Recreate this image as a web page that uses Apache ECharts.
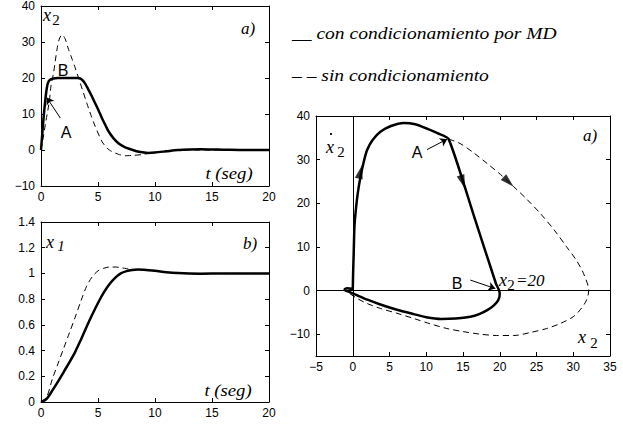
<!DOCTYPE html>
<html>
<head>
<meta charset="utf-8">
<script src="https://cdn.jsdelivr.net/npm/echarts@6/dist/echarts.min.js"></script>
<style>
  html, body { margin: 0; padding: 0; background: #fff; }
  #chart { width: 623px; height: 425px; }
</style>
</head>
<body>
<div id="chart"></div>
<script>
// a) x2(t), con condicionamiento (solid) / sin condicionamiento (dashed)
const tX2Con = [0, 0.1, 0.2, 0.3, 0.4, 0.5, 0.6, 0.75, 1.0, 1.5, 2.0, 2.5, 3.0, 3.29, 3.6, 3.9, 4.17, 4.45, 4.75, 5.05, 5.34, 5.63, 5.92, 6.35, 6.79, 7.35, 7.96, 8.6, 9.4, 10, 11, 12, 13, 14, 15, 16, 18, 20];
const x2Con  = [0, 4, 8, 11.5, 14.5, 17, 18.5, 19.4, 19.8, 20, 20, 20, 20, 20, 19.5, 18.3, 16.7, 15, 13, 11, 8.9, 7, 5.2, 3.3, 1.9, 0.8, 0.1, -0.5, -0.8, -0.7, -0.35, 0, 0.15, 0.2, 0.15, 0.1, 0, 0];
const tX2Sin = [0, 0.2, 0.4, 0.6, 0.75, 0.87, 1.1, 1.4, 1.6, 1.84, 2.1, 2.42, 2.7, 3.0, 3.44, 4.02, 4.4, 4.75, 5.34, 5.8, 6.2, 6.8, 7.37, 8.0, 8.8, 9.5, 10, 11, 12, 20];
const x2Sin  = [0, 3.5, 7.5, 11, 14, 17.7, 21.4, 27.9, 30.8, 32, 31, 27.9, 25.5, 22.8, 18.6, 13, 9.5, 6.6, 2.4, 0.5, -0.4, -1.2, -1.6, -1.5, -1.3, -0.9, -0.6, -0.2, 0, 0];

// b) x1(t)
const tX1Con = [0, 0.5, 1, 1.5, 2, 2.5, 3, 3.5, 4, 4.5, 5, 5.5, 6, 6.5, 7, 7.5, 8, 8.5, 9, 10, 11, 12, 13, 14, 16, 18, 20];
const x1Con  = [0, 0.025, 0.09, 0.16, 0.235, 0.31, 0.39, 0.485, 0.585, 0.68, 0.77, 0.85, 0.915, 0.965, 1.0, 1.018, 1.027, 1.03, 1.028, 1.02, 1.01, 1.003, 0.999, 0.998, 1.0, 1.0, 1.0];
const tX1Sin = [0, 0.5, 1, 1.5, 2, 2.5, 3, 3.5, 4, 4.5, 5, 5.5, 6, 6.5, 7, 7.5, 8, 8.5, 9, 10, 11, 12, 13, 14, 16, 18, 20];
const x1Sin  = [0, 0.04, 0.18, 0.30, 0.42, 0.54, 0.66, 0.785, 0.90, 0.975, 1.02, 1.04, 1.05, 1.05, 1.045, 1.037, 1.03, 1.03, 1.028, 1.02, 1.01, 1.003, 0.999, 0.998, 1.0, 1.0, 1.0];

// plano de fase (x2, dx2/dt)
const phX2Con  = [0, 0.05, 0.12, 0.23, 0.45, 0.7, 1.05, 1.5, 1.95, 2.7, 3.76, 5.2, 6.93, 8.5, 10.1, 11.6, 13.05, 16.3, 19.5, 19.85, 20.0, 19.8, 19.2, 18.3, 17.2, 16, 14, 12, 10, 8.3, 6, 3.76, 2, 0.6, -0.5, -1.0, -1.1, -0.8, 0, 0];
const phDx2Con = [0, 4, 8, 14.6, 19, 22.5, 26, 29.5, 32.2, 34.5, 36.4, 37.7, 38.4, 38.1, 37.1, 36, 34.7, 18.1, 1.5, 0.3, -0.8, -2.2, -3.4, -4.5, -5.4, -6, -6.4, -6.5, -6.1, -5.4, -4.4, -3.2, -2.1, -1.1, -0.3, 0, 0.3, 0.5, 0.3, 0];
const phX2Sin  = [13.05, 14.6, 16.5, 18.3, 20.1, 21.9, 23.7, 25.5, 27.4, 29.1, 30.4, 31.4, 32.1, 31.8, 31, 30, 28.3, 26.4, 24.2, 21.9, 19.6, 17.35, 15, 12.8, 10.5, 8.3, 6, 3.76, 2, 0.6, -0.76, -1];
const phDx2Sin = [34.7, 33.7, 31.5, 29.1, 26.6, 23.8, 20.9, 17.7, 13.9, 10, 7, 3.9, 0, -2.2, -4.3, -6, -7.5, -8.7, -9.6, -10.3, -10.3, -10, -9.4, -8.7, -7.6, -6.4, -5.2, -4.1, -3, -1.8, -0.3, 0];
// flechas de sentido sobre las trayectorias
const arrowX2  = [1.05, 14.97, 21.2];
const arrowDx2 = [27.2, 24.9, 24.9];
const arrowRot = [-14, 199, 227];

const zip = (a, b) => a.map((v, i) => [v, b[i]]);
const fmt = v => String(v).replace('-', '\u2212');

const SANS = "'Liberation Sans', Arial, sans-serif";
const SERIF = "'Liberation Serif', 'Times New Roman', serif";

function xAxes(g, min, max, interval) {
  const base = {
    gridIndex: g, type: 'value', min: min, max: max, interval: interval,
    axisLine: { onZero: false, lineStyle: { color: '#000', width: 1 } },
    axisTick: { inside: true, length: 4, lineStyle: { color: '#000' } },
    splitLine: { show: false }
  };
  return [
    Object.assign({}, base, { position: 'bottom',
      axisLabel: { color: '#000', fontFamily: SANS, fontSize: 12, margin: 5, formatter: fmt } }),
    Object.assign({}, base, { position: 'top', axisLabel: { show: false } })
  ];
}

function yAxes(g, min, max, interval, custom) {
  const base = {
    gridIndex: g, type: 'value', min: min, max: max, interval: interval,
    axisLine: { onZero: false, lineStyle: { color: '#000', width: 1 } },
    axisTick: { inside: true, length: 4, lineStyle: { color: '#000' } },
    splitLine: { show: false }
  };
  if (custom) base.axisTick.customValues = custom;
  const lab = { color: '#000', fontFamily: SANS, fontSize: 12, margin: 6, formatter: fmt };
  if (custom) lab.customValues = custom;
  return [
    Object.assign({}, base, { position: 'left', axisLabel: lab }),
    Object.assign({}, base, { position: 'right', axisLabel: { show: false } })
  ];
}

function txt(x, y, text, font, align, sx) {
  return {
    type: 'text', x: x, y: y, scaleX: sx || 1, silent: true,
    style: { text: text, font: font, fill: '#000', align: align || 'center', verticalAlign: 'middle' }
  };
}

const solid = { color: '#000', width: 2.5 };
const dashed = { color: '#000', width: 1, type: [6, 4] };
const arrowLine = (from, to) => [{ coord: from }, { coord: to }];

const chart = echarts.init(document.getElementById('chart'), null, { renderer: 'svg' });

chart.setOption({
  animation: false,
  backgroundColor: '#fff',
  grid: [
    { left: 41, top: 5, width: 228, height: 181 },
    { left: 41, top: 222, width: 228, height: 180 },
    { left: 316, top: 116, width: 294, height: 240 }
  ],
  xAxis: [].concat(xAxes(0, 0, 20, 5), xAxes(1, 0, 20, 5), xAxes(2, -5, 35, 5)),
  yAxis: [].concat(yAxes(0, -10, 40, 10), yAxes(1, 0, 1.4, 0.2), yAxes(2, -15, 40, 5, [-10, 0, 10, 20, 30, 40])),
  series: [
    { type: 'line', xAxisIndex: 0, yAxisIndex: 0, data: zip(tX2Sin, x2Sin), showSymbol: false, smooth: 0.25, lineStyle: dashed },
    { type: 'line', xAxisIndex: 0, yAxisIndex: 0, data: zip(tX2Con, x2Con), showSymbol: false, smooth: 0.25, lineStyle: solid,
      markLine: { silent: true, symbol: ['none', 'arrow'], symbolSize: 7, label: { show: false },
        lineStyle: { color: '#000', width: 1, type: 'solid' },
        data: [arrowLine([1.69, 8.9], [0.5, 14.6])] } },
    { type: 'line', xAxisIndex: 2, yAxisIndex: 2, data: zip(tX1Sin, x1Sin), showSymbol: false, smooth: 0.3, lineStyle: dashed },
    { type: 'line', xAxisIndex: 2, yAxisIndex: 2, data: zip(tX1Con, x1Con), showSymbol: false, smooth: 0.3, lineStyle: solid },
    { type: 'line', xAxisIndex: 4, yAxisIndex: 4, data: zip(phX2Sin, phDx2Sin), showSymbol: false, smooth: 0.3, lineStyle: dashed,
      markLine: { silent: true, symbol: 'none', label: { show: false },
        lineStyle: { color: '#000', width: 1, type: 'solid' },
        data: [{ xAxis: 0 }, { yAxis: 0 }] } },
    { type: 'line', xAxisIndex: 4, yAxisIndex: 4, data: zip(phX2Con, phDx2Con), showSymbol: false, smooth: 0.2, lineStyle: solid,
      markLine: { silent: true, symbol: ['none', 'arrow'], symbolSize: 7, label: { show: false },
        lineStyle: { color: '#000', width: 1, type: 'solid' },
        data: [arrowLine([10.1, 32.3], [12.85, 34.7]), arrowLine([16, 2.4], [19.4, 0.45])] } },
    { type: 'scatter', xAxisIndex: 4, yAxisIndex: 4, silent: true, symbol: 'triangle', symbolSize: [8, 14],
      itemStyle: { color: '#000' },
      data: arrowX2.map((v, i) => ({ value: [v, arrowDx2[i]], symbolRotate: arrowRot[i] })) }
  ],
  graphic: [
    // leyenda
    txt(292, 33, '__ con condicionamiento por MD', 'italic 17px ' + SERIF, 'left', 1.15),
    txt(292, 75, '\u2013 \u2013 sin condicionamiento', 'italic 17px ' + SERIF, 'left', 1.15),
    // a) x2(t)
    txt(47, 15, 'x', 'italic 18px ' + SERIF),
    txt(56, 20, '2', '15px ' + SERIF),
    txt(248, 28, 'a)', 'italic 17px ' + SERIF),
    txt(229, 173, 't (seg)', 'italic 17px ' + SERIF, 'center', 1.1),
    txt(66, 132, 'A', '16px ' + SANS),
    txt(63, 70, 'B', '16px ' + SANS),
    // b) x1(t)
    txt(50, 242, 'x', 'italic 18px ' + SERIF),
    txt(61, 246, '1', 'italic 15px ' + SERIF),
    txt(250, 243, 'b)', 'italic 17px ' + SERIF),
    txt(228, 390, 't (seg)', 'italic 17px ' + SERIF, 'center', 1.1),
    // plano de fase
    { type: 'circle', silent: true, shape: { cx: 331, cy: 134, r: 1.1 }, style: { fill: '#000' } },
    txt(330, 147, 'x', 'italic 18px ' + SERIF),
    txt(341, 152, '2', '15px ' + SERIF),
    txt(590, 135, 'a)', 'italic 17px ' + SERIF),
    txt(417, 152, 'A', '16px ' + SANS),
    txt(457, 283, 'B', '16px ' + SANS),
    txt(503, 280, 'x', 'italic 18px ' + SERIF),
    txt(511, 285, '2', '15px ' + SERIF),
    txt(516, 280, '=20', 'italic 17px ' + SERIF, 'left'),
    txt(582, 337, 'x', 'italic 18px ' + SERIF),
    txt(594, 343, '2', '15px ' + SERIF)
  ]
});
</script>
</body>
</html>
